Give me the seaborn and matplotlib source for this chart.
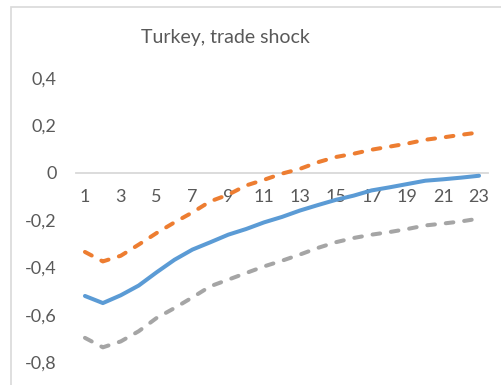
import numpy as np
import pandas as pd
import matplotlib
matplotlib.use('Agg')
import matplotlib.pyplot as plt
import seaborn as sns
from matplotlib.patches import Rectangle

# data
periods = list(range(1, 24))
response = [-0.521, -0.551, -0.518, -0.477, -0.421, -0.368, -0.325, -0.294, -0.262, -0.238,
            -0.210, -0.187, -0.160, -0.137, -0.115, -0.097, -0.075, -0.062, -0.048, -0.034,
            -0.028, -0.021, -0.013]
upper = [-0.335, -0.375, -0.351, -0.304, -0.255, -0.210, -0.168, -0.121, -0.093, -0.054,
         -0.030, -0.004, 0.016, 0.044, 0.066, 0.080, 0.097, 0.110, 0.123, 0.139,
         0.149, 0.160, 0.170]
lower = [-0.698, -0.738, -0.713, -0.670, -0.614, -0.572, -0.527, -0.480, -0.452, -0.424,
         -0.396, -0.372, -0.346, -0.318, -0.294, -0.276, -0.262, -0.251, -0.238, -0.223,
         -0.215, -0.206, -0.194]
yticks = [-0.8, -0.6, -0.4, -0.2, 0, 0.2, 0.4]
ytick_labels = ['-0,8', '-0,6', '-0,4', '-0,2', '0', '0,2', '0,4']
xticks = list(range(1, 24, 2))

df = pd.DataFrame({'period': periods, 'response': response, 'upper': upper, 'lower': lower})

sns.set_style('white')
plt.rcParams['font.family'] = ['Lato', 'DejaVu Sans']

fig = plt.figure(figsize=(5.02, 3.85), dpi=100)
ax = fig.add_axes([76 / 502, 1 - 362 / 385, (488 - 76) / 502, (362 - 78) / 385])

# chart frame
fig.patches.append(Rectangle((11 / 502, -0.1), 1.2, 1 - 7 / 385 + 0.1, transform=fig.transFigure,
                             fill=False, edgecolor='#D9D9D9', linewidth=1.2))

sns.lineplot(data=df, x='period', y='response', ax=ax, color='#5B9BD5', linewidth=2.9,
             solid_capstyle='round', solid_joinstyle='round')
for col, colr in [('upper', '#ED7D31'), ('lower', '#A5A5A5')]:
    sns.lineplot(data=df, x='period', y=col, ax=ax, color=colr, linewidth=2.9,
                 linestyle=(0, (1.9, 2.7)), dash_capstyle='round', dash_joinstyle='round')

ax.set_xlim(0.5, 23.5)
ax.set_ylim(-0.8, 0.4)
ax.set_xticks(xticks)
ax.set_xticklabels([str(t) for t in xticks])
ax.set_yticks(yticks)
ax.set_yticklabels(ytick_labels)
ax.set_xlabel('')
ax.set_ylabel('')

for s in ['top', 'right', 'left']:
    ax.spines[s].set_visible(False)
ax.spines['bottom'].set_position(('data', 0))
ax.spines['bottom'].set_color('#D9D9D9')
ax.spines['bottom'].set_linewidth(1.3)
ax.spines['bottom'].set_zorder(0)

ax.tick_params(axis='both', length=0, labelsize=13, colors='#595959')
ax.tick_params(axis='x', pad=12)
ax.tick_params(axis='y', pad=14)

fig.text(225 / 502, 1 - 38 / 385, 'Turkey, trade shock', ha='center', va='center',
         fontsize=14, color='#595959')

fig.savefig('out.png', dpi=100)
